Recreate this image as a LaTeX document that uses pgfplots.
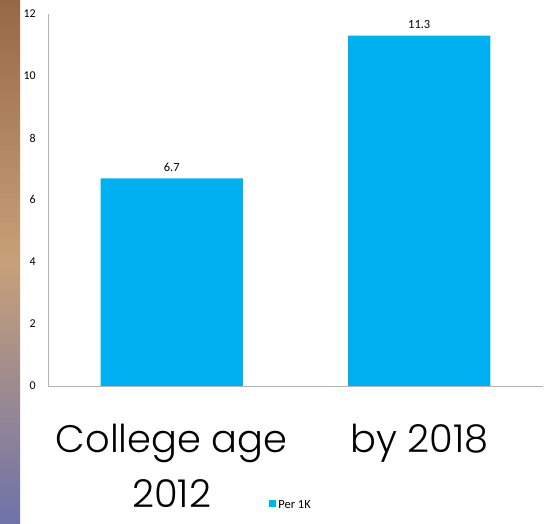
\documentclass[border=0pt]{standalone}
\usepackage{fontspec}
\setmainfont{Carlito}
\newfontfamily\bigfont{Poppins Light}
\usepackage{pgfplots}
\pgfplotsset{compat=1.18}
\definecolor{barblue}{HTML}{00B0F0}
\definecolor{axgray}{HTML}{B4B4B4}
\begin{document}
\begin{tikzpicture}
\useasboundingbox (0,0) rectangle (551bp,524bp);
\shade[top color={rgb,255:red,150;green,105;blue,70}, bottom color={rgb,255:red,110;green,115;blue,170}, middle color={rgb,255:red,200;green,160;blue,120}] (0,0) rectangle (20bp,524bp);
\begin{axis}[
  at={(48bp,138bp)}, anchor=south west,
  scale only axis, width=495bp, height=372bp,
  ybar, bar width=0.574,
  xmin=-0.5, xmax=1.5, ymin=0, ymax=12,
  ytick={0,2,...,12},
  xtick=data,
  xticklabels={{College age\\2012},{by 2018}},
  axis x line*=bottom, axis y line*=left,
  axis line style={axgray, line width=0.8pt},
  major tick length=0pt,
  tick style={draw=none},
  /pgf/number format/assume math mode=true,
  yticklabel style={font=\fontsize{12}{14}\selectfont, inner sep=0pt, anchor=east, xshift=-12bp},
  xticklabel style={font=\bigfont\fontsize{38.5}{55}\selectfont, align=center, anchor=north, yshift=-35bp},
  nodes near coords,
  nodes near coords style={font=\fontsize{12.5}{14}\selectfont, black, inner sep=0pt, yshift=7bp},
  legend style={at={(0.491,-0.32)}, anchor=center, draw=none, font=\fontsize{12.5}{14}\selectfont, inner sep=0pt},
  legend image code/.code={\fill[barblue] (0bp,-2bp) rectangle (7bp,5bp);},
]
\addplot[fill=barblue, draw=none] coordinates {(0,6.7) (1,11.3)};
\addlegendentry{Per 1K}
\end{axis}
\end{tikzpicture}
\end{document}
